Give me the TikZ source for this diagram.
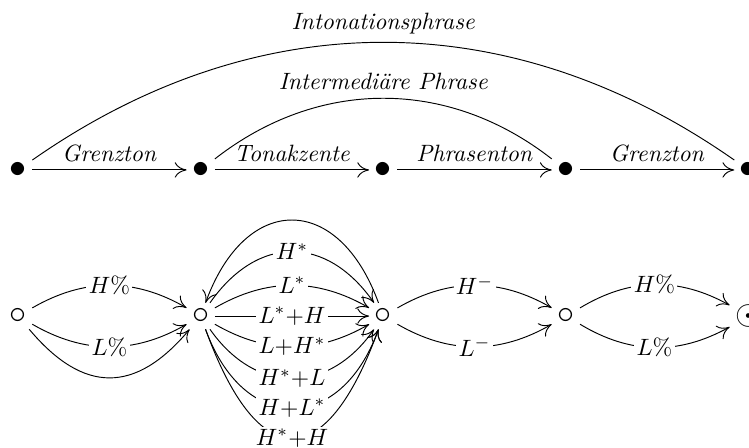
\documentclass[tikz,border=0pt]{standalone}
\usetikzlibrary{arrows.meta}

\begin{document}
\begin{tikzpicture}[x=2.718cm,y=1cm,>={To[length=5pt,width=6.5pt]},
    knoten/.style={font=\Large,inner sep=2.2pt},
    lab/.style={fill=white,inner sep=1pt}]
    \useasboundingbox (-0.27cm,2.53cm) rectangle (10.88cm,-4.125cm);
    % obere Reihe
    \foreach \i in {0,...,4}
        \node[knoten] (p\i) at (\i,0) {$\bullet$};
    \draw[->] (p0) -- node[above] {\textit{Grenzton}} (p1);
    \draw[->] (p1) -- node[above] {\textit{Tonakzente}} (p2);
    \draw[->] (p2) -- node[above] {\textit{Phrasenton}} (p3);
    \draw[->] (p3) -- node[above] {\textit{Grenzton}} (p4);
    \draw (p0) to[bend left=35] node[above] {\textit{Intonationsphrase}} (p4);
    \draw (p1) to[bend left=38] node[above] {\textit{Intermediäre Phrase}} (p3);
    % untere Reihe
    \foreach \i in {0,...,3}
        \node[knoten] (s\i) at (\i,-2.175) {$\circ$};
    \node[knoten] (s4) at (4,-2.175) {$\odot$};
    \draw[->] (s0) to[bend left] node[lab] {$H\%$} (s1);
    \draw[->] (s0) to[bend right] node[lab] {$L\%$} (s1);
    \draw[->] (s0) to[bend right=50,looseness=1.35] (s1);
    \draw[->] (s2) to[bend right=70,looseness=1.74] (s1);
    \draw[->] (s1) to[bend left=55,looseness=1.3] node[lab] {$H^*$} (s2);
    \draw[->] (s1) to[bend left] node[lab] {$L^*$} (s2);
    \draw[->] (s1) -- node[lab] {$L^*{+}H$} (s2);
    \draw[->] (s1) to[bend right] node[lab] {$L{+}H^*$} (s2);
    \draw[->] (s1) to[bend right=55,looseness=1.25] node[lab] {$H^*{+}L$} (s2);
    \draw[->] (s1) to[bend right=70,looseness=1.66] node[lab] {$H{+}L^*$} (s2);
    \draw[->] (s1) to[bend right=70,looseness=2.29] node[lab] {$H^*{+}H$} (s2);
    \draw[->] (s2) to[bend left] node[lab] {$H^-$} (s3);
    \draw[->] (s2) to[bend right] node[lab] {$L^-$} (s3);
    \draw[->] (s3) to[bend left] node[lab] {$H\%$} (s4);
    \draw[->] (s3) to[bend right] node[lab] {$L\%$} (s4);
\end{tikzpicture}
\end{document}
